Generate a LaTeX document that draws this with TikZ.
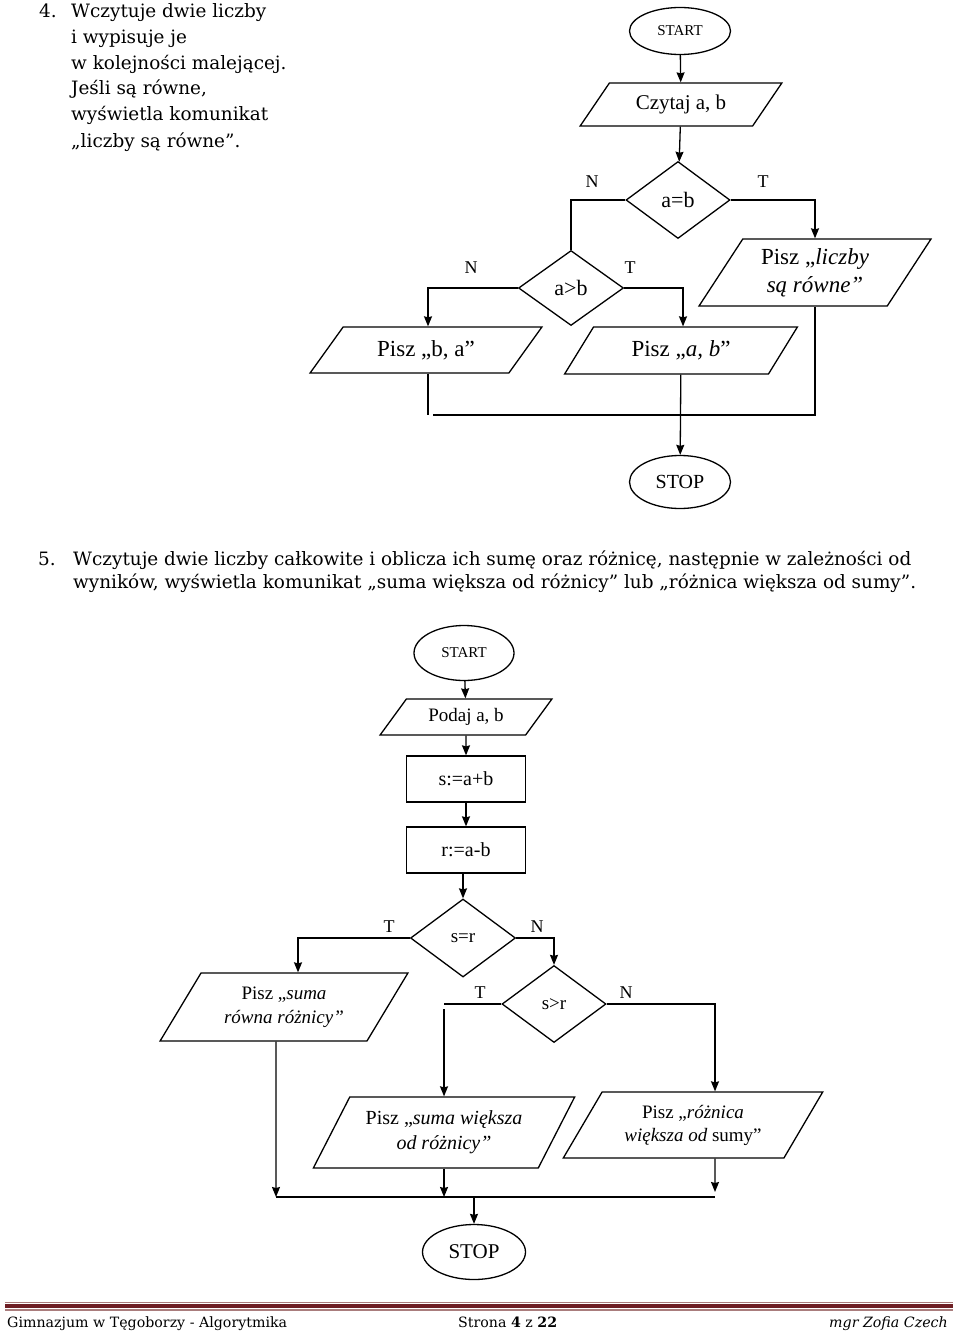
\documentclass[tikz,border=0pt]{standalone}
\usepackage{fontspec}
\newfontfamily\flowfont{Liberation Serif}
\newfontfamily\bodyfont{DejaVu Serif}
\usepackage{tikz}
\usetikzlibrary{shapes.geometric, arrows.meta}
\definecolor{footred}{RGB}{110,30,36}
\definecolor{footpale}{RGB}{170,125,125}
\tikzstyle{term} = [ellipse, draw, line width=1.3pt, inner sep=0pt]
\tikzstyle{io} = [trapezium, draw, line width=1.3pt, inner sep=0pt, align=center, trapezium stretches=true]
\tikzstyle{proc} = [rectangle, draw, line width=1.3pt, minimum width=119pt, minimum height=46pt, inner sep=0pt]
\tikzstyle{cond} = [diamond, draw, line width=1.3pt, inner sep=0pt]
\tikzstyle{line} = [line width=1.3pt]
\tikzstyle{arrow} = [line width=1.3pt,-{Stealth[length=10pt,width=8pt,inset=1pt]}]
\tikzstyle{lbl} = [inner sep=0pt, font=\flowfont\fontsize{18}{20}\selectfont]
\tikzstyle{body} = [anchor=base west, inner sep=0pt, font=\bodyfont\fontsize{18.4}{23}\selectfont]
\tikzstyle{foot} = [anchor=base west, inner sep=0pt, font=\bodyfont\fontsize{14.2}{17}\selectfont]

\begin{document}
\begin{tikzpicture}[x=1pt, y=-1pt]
  \useasboundingbox (0,0) rectangle (960,1335);

  \node (num4) [body] at (39,18) {4.};
  \node (txt4a) [body] at (71,18) {Wczytuje dwie liczby};
  \node (txt4b) [body] at (71,44) {i wypisuje je};
  \node (txt4c) [body] at (71,70) {w kolejności malejącej.};
  \node (txt4d) [body] at (71,95) {Jeśli są równe,};
  \node (txt4e) [body] at (71,121) {wyświetla komunikat};
  \node (txt4f) [body] at (71,147) {„liczby są równe”.};

  \node (start1) [term, minimum width=101pt, minimum height=47pt, font=\flowfont\fontsize{15}{18}\selectfont] at (680,31) {START};
  \node (czytaj) [io, trapezium left angle=46, trapezium right angle=134, minimum width=202pt, minimum height=43pt, font=\flowfont\fontsize{21}{24}\selectfont] at (681,104.5) {Czytaj a, b};
  \node (eq) [cond, minimum width=104pt, minimum height=77pt, font=\flowfont\fontsize{22}{24}\selectfont] at (678,200) {a=b};
  \node (gt) [cond, minimum width=105pt, minimum height=75pt, font=\flowfont\fontsize{22}{24}\selectfont] at (571,288) {a>b};
  \node (liczby) [io, trapezium left angle=56, trapezium right angle=124, minimum width=232pt, minimum height=67pt, font=\flowfont\fontsize{23}{28}\selectfont] at (815,272.5) {Pisz „{\itshape liczby}\\{\itshape są równe”}};
  \node (ba) [io, trapezium left angle=45, trapezium right angle=135, minimum width=232pt, minimum height=46pt, font=\flowfont\fontsize{23}{26}\selectfont] at (426,350) {Pisz „b, a”};
  \node (ab) [io, trapezium left angle=50, trapezium right angle=130, minimum width=233pt, minimum height=47pt, font=\flowfont\fontsize{23}{26}\selectfont] at (681,350.5) {Pisz „\textit{a, b}”};
  \node (stop1) [term, minimum width=101pt, minimum height=53pt, font=\flowfont\fontsize{20}{22}\selectfont] at (680,482) {STOP};

  \node (no1) [lbl] at (592,182) {N};
  \node (yes1) [lbl] at (763,182) {T};
  \node (no2) [lbl] at (471,268) {N};
  \node (yes2) [lbl] at (630,268) {T};

  \draw [arrow] (start1) -- (czytaj);
  \draw [arrow] (czytaj) -- (eq);
  \draw [line] (eq.west) -| (gt.north);
  \draw [arrow] (eq.east) -| (liczby.north);
  \draw [arrow] (gt.west) -| ([xshift=2pt]ba.north);
  \draw [arrow] (gt.east) -| ([xshift=2pt]ab.north);
  \coordinate (join1) at (433,415);
  \draw [line] ([xshift=2pt]ba.south) -- ([xshift=2pt]ba.south |- join1);
  \draw [line] (join1) -| (liczby.south);
  \draw [arrow] (ab) -- (stop1);

  \node (num5) [body] at (38,565) {5.};
  \node (txt5a) [body] at (73,565) {Wczytuje dwie liczby całkowite i oblicza ich sumę oraz różnicę, następnie w zależności od};
  \node (txt5b) [body] at (73,588) {wyników, wyświetla komunikat „suma większa od różnicy” lub „różnica większa od sumy”.};

  \node (start2) [term, minimum width=100pt, minimum height=55pt, font=\flowfont\fontsize{15}{18}\selectfont] at (464,653) {START};
  \node (podaj) [io, trapezium left angle=46, trapezium right angle=134, minimum width=172pt, minimum height=36pt, font=\flowfont\fontsize{19}{22}\selectfont] at (466,717) {Podaj a, b};
  \node (suma) [proc, font=\flowfont\fontsize{20}{22}\selectfont] at (466,779) {s:=a+b};
  \node (roz) [proc, font=\flowfont\fontsize{20}{22}\selectfont] at (466,850) {r:=a-b};
  \node (sr) [cond, minimum width=105pt, minimum height=78pt, font=\flowfont\fontsize{19}{22}\selectfont] at (463,938) {s=r};
  \node (sgr) [cond, minimum width=104pt, minimum height=77pt, font=\flowfont\fontsize{19}{22}\selectfont] at (554,1004) {s>r};
  \node (rowna) [io, trapezium left angle=54, trapezium right angle=126, minimum width=248pt, minimum height=68pt, font=\flowfont\fontsize{19}{24}\selectfont] at (284,1007) {Pisz „{\itshape suma}\\{\itshape równa różnicy”}};
  \node (wieksza) [io, trapezium left angle=55, trapezium right angle=125, minimum width=262pt, minimum height=71pt, font=\flowfont\fontsize{20}{25}\selectfont] at (444,1132.5) {Pisz „{\itshape suma większa}\\{\itshape od różnicy”}};
  \node (roznica) [io, trapezium left angle=54, trapezium right angle=126, minimum width=260pt, minimum height=66pt, font=\flowfont\fontsize{19}{23}\selectfont] at (693,1125) {Pisz „{\itshape różnica}\\{\itshape większa od} sumy”};
  \node (stop2) [term, minimum width=103pt, minimum height=55pt, font=\flowfont\fontsize{21}{24}\selectfont] at (474,1252) {STOP};

  \node (yes3) [lbl] at (389,927) {T};
  \node (no3) [lbl] at (537,927) {N};
  \node (yes4) [lbl] at (480,993) {T};
  \node (no4) [lbl] at (626,993) {N};

  \draw [arrow] (start2) -- (podaj);
  \draw [arrow] (podaj) -- (suma);
  \draw [arrow] (suma) -- (roz);
  \draw [arrow] (roz.south -| sr.north) -- (sr.north);
  \draw [arrow] (sr.west) -| ([xshift=14pt]rowna.north);
  \draw [arrow] (sr.east) -| (sgr.north);
  \coordinate (bend) at (sgr.west -| wieksza.north);
  \draw [line] (sgr.west) -- (bend);
  \draw [arrow] ([yshift=-5pt]bend) -- (wieksza.north);
  \draw [arrow] (sgr.east) -| ([xshift=22pt]roznica.north);
  \coordinate (join2l) at (276,1197);
  \coordinate (join2r) at (715,1197);
  \draw [arrow] ([xshift=-8pt]rowna.south) -- (join2l);
  \draw [arrow] (wieksza.south) -- (wieksza.south |- join2l);
  \draw [arrow] ([xshift=22pt]roznica.south) -- ([yshift=5pt]join2r);
  \draw [line] (join2l) -- (join2r);
  \draw [arrow] (stop2.north |- join2l) -- (stop2.north);

  \fill [footpale] (5,1301.5) rectangle (953,1302.8);
  \fill [footred] (5,1304) rectangle (953,1308.3);
  \fill [footpale] (5,1309.3) rectangle (953,1310.6);
  \node (foot1) [foot] at (7,1327) {Gimnazjum w Tęgoborzy - Algorytmika};
  \node (foot2) [foot] at (458,1327) {Strona \textbf{4} z \textbf{22}};
  \node (foot3) [foot, anchor=base east] at (948,1327) {\textit{mgr Zofia Czech}};
\end{tikzpicture}
\end{document}
